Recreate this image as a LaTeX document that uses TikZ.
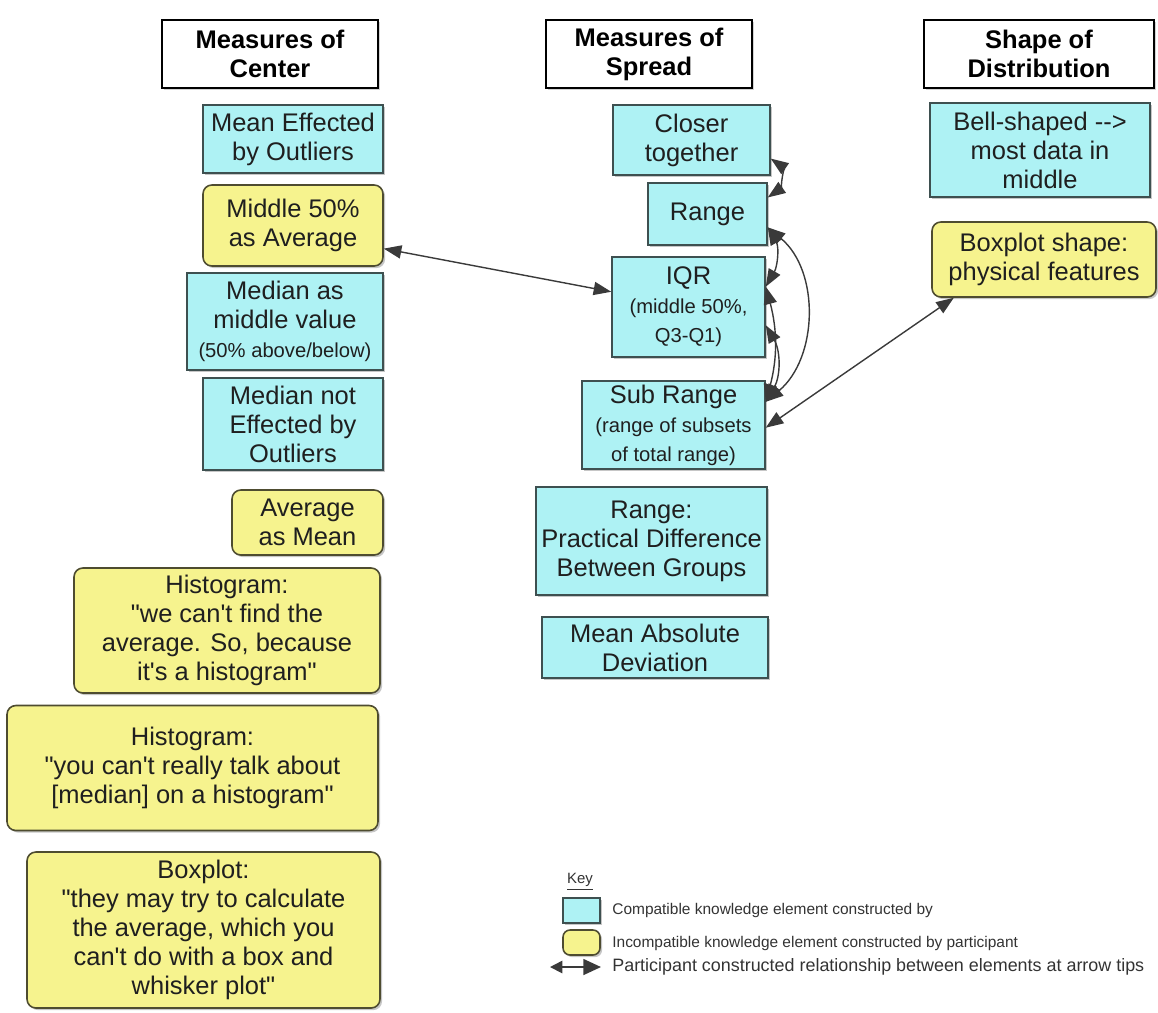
\documentclass[tikz,border=0pt]{standalone}
\usepackage{fontspec}
\setmainfont{Liberation Sans}[Ligatures=TeXOff]
\usetikzlibrary{arrows.meta,calc,shadows}

\definecolor{cmpfill}{HTML}{AEF2F4}
\definecolor{cmpline}{HTML}{3E5050}
\definecolor{incfill}{HTML}{F6F38E}
\definecolor{incline}{HTML}{4E4C30}
\definecolor{relline}{HTML}{3A3A3A}
\definecolor{keytext}{HTML}{333333}

\newcommand{\smalltxt}{\fontsize{11.5}{13.5}\selectfont}

\tikzset{
  elem/.style={draw, line width=0.9pt, align=center, inner sep=2pt,
    font=\fontsize{14.5}{16.5}\selectfont, text=black!88,
    drop shadow={shadow xshift=1.2pt, shadow yshift=-1.2pt, opacity=0.45}},
  compat/.style={elem, draw=cmpline, fill=cmpfill},
  incompat/.style={elem, draw=incline, fill=incfill, rounded corners=5pt},
  topic/.style={draw=black, line width=1.6pt, fill=white, align=center,
    minimum height=1.36cm, font=\fontsize{14.5}{16.5}\selectfont\bfseries,
    drop shadow={shadow xshift=1pt, shadow yshift=-1pt, opacity=0.35}},
  rel/.style={draw=relline, line width=0.8pt,
    {Triangle[length=10pt,width=7.5pt]}-{Triangle[length=10pt,width=7.5pt]}},
  keylabel/.style={anchor=west, inner sep=0pt, text=keytext, font=\fontsize{8.8}{11}\selectfont}
}

\begin{document}
\begin{tikzpicture}[x=0.02cm, y=-0.02cm]
\useasboundingbox (0,0) rectangle (1158,1012);

% column headers
\node[topic, minimum width=4.32cm] (hCenter) at (270,54) {Measures of\\Center};
\node[topic, minimum width=4.12cm] (hSpread) at (649,54) {Measures of\\Spread};
\node[topic, minimum width=4.6cm] (hShape) at (1039,54) {Shape of\\Distribution};

% measures of center
\node[compat, minimum width=3.6cm, minimum height=1.36cm] (meanOut) at (293,139) {Mean Effected\\by Outliers};
\node[incompat, minimum width=3.6cm, minimum height=1.62cm] (midAvg) at (293,225.5) {Middle 50\%\\as Average};
\node[compat, minimum width=3.92cm, minimum height=1.94cm] (medMid) at (285,321.5) {Median as\\middle value\\{\smalltxt (50\% above/below)}};
\node[compat, minimum width=3.6cm, minimum height=1.84cm] (medOut) at (293,424) {Median not\\Effected by\\Outliers};
\node[incompat, minimum width=3.02cm, minimum height=1.3cm] (avgMean) at (307.5,522.5) {Average\\as Mean};
\node[incompat, minimum width=6.12cm, minimum height=2.5cm] (histA) at (227,630.5) {Histogram:\\"we can't find the\\average. So, because\\it's a histogram"};
\node[incompat, minimum width=7.42cm, minimum height=2.5cm] (histB) at (192.5,768) {Histogram:\\"you can't really talk about\\{[median]} on a histogram"};
\node[incompat, minimum width=7.06cm, minimum height=3.12cm] (boxAvg) at (203.5,930) {Boxplot:\\"they may try to calculate\\the average, which you\\can't do with a box and\\whisker plot"};

% measures of spread
\node[compat, minimum width=3.14cm, minimum height=1.4cm] (closer) at (691.5,140) {Closer\\together};
\node[compat, minimum width=2.38cm, minimum height=1.24cm] (range) at (707.5,214) {Range};
\node[compat, minimum width=3.06cm, minimum height=2.0cm] (iqr) at (688.5,307) {IQR\\{\smalltxt (middle 50\%,}\\{\smalltxt Q3-Q1)}};
\node[compat, minimum width=3.66cm, minimum height=1.68cm] (subRange) at (673.5,425) {Sub Range\\{\smalltxt (range of subsets}\\{\smalltxt of total range)}};
\node[compat, minimum width=4.62cm, minimum height=2.16cm] (rangeDiff) at (651.5,541) {Range:\\Practical Difference\\Between Groups};
\node[compat, minimum width=4.52cm, minimum height=1.22cm] (mad) at (655,647.5) {Mean Absolute\\Deviation};

% shape of distribution
\node[compat, minimum width=4.4cm, minimum height=1.88cm] (bell) at (1040,150) {Bell-shaped -->\\most data in\\middle};
\node[incompat, minimum width=4.48cm, minimum height=1.5cm] (boxShape) at (1044,259.5) {Boxplot shape:\\physical features};

% relationships
\draw[rel] ($(midAvg.north east)!0.78!(midAvg.south east)$) -- ($(iqr.north west)!0.35!(iqr.south west)$);
\draw[rel] ($(boxShape.south west)!0.1!(boxShape.south east)$) -- ($(subRange.north east)!0.53!(subRange.south east)$);
\draw[rel] ($(closer.north east)!0.76!(closer.south east)$) to[out=-35, in=35] ($(range.north east)!0.24!(range.south east)$);
\draw[rel] ($(range.north east)!0.71!(range.south east)$) to[out=-60, in=60] ($(iqr.north east)!0.3!(iqr.south east)$);
\draw[rel] ($(range.north east)!0.71!(range.south east)$) to[out=-40, in=40] ($(subRange.north east)!0.24!(subRange.south east)$);
\draw[rel] ($(iqr.north east)!0.3!(iqr.south east)$) to[out=-75, in=75] ($(subRange.north east)!0.24!(subRange.south east)$);
\draw[rel] ($(iqr.north east)!0.68!(iqr.south east)$) to[out=-60, in=60] ($(subRange.north east)!0.24!(subRange.south east)$);

% key
\node[anchor=center, inner sep=0pt, text=keytext, font=\fontsize{8.5}{10}\selectfont] (keyTitle) at (580,882) {\underline{Key}};
\node[compat, inner sep=0pt, minimum width=0.74cm, minimum height=0.5cm] (keyCompat) at (581.5,910.5) {};
\node[incompat, inner sep=0pt, minimum width=0.74cm, minimum height=0.5cm, rounded corners=4pt] (keyIncompat) at (581.5,942.5) {};
\coordinate (keyL) at (550,967);
\coordinate (keyR) at (601,967);
\draw[draw=relline, line width=1pt, {Triangle[length=7pt,width=7pt]}-{Triangle[length=10pt,width=9pt]}] (keyL) -- (keyR);
\node[keylabel] (keyTextA) at (612,910.5) {Compatible knowledge element constructed by};
\node[keylabel] (keyTextB) at (612,943) {Incompatible knowledge element constructed by participant};
\node[keylabel, font=\fontsize{10.2}{12}\selectfont] (keyTextC) at (612,967) {Participant constructed relationship between elements at arrow tips};
\end{tikzpicture}
\end{document}
